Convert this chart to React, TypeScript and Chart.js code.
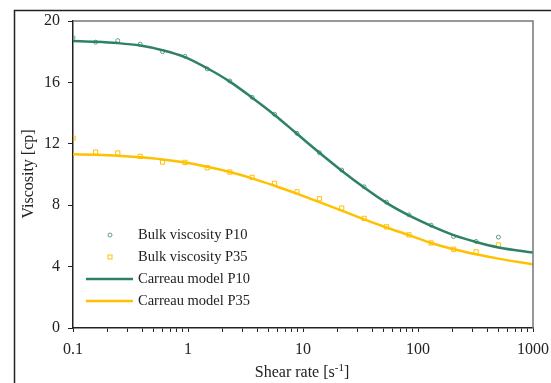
import { useEffect, useRef } from "react";
import { Chart, registerables } from "chart.js";

Chart.register(...registerables);

const shearRate = [0.1, 0.157, 0.245, 0.384, 0.601, 0.941, 1.47, 2.31, 3.61, 5.66, 8.86, 13.9, 21.7, 34.0, 53.2, 83.4, 130, 204, 320, 500];
const bulkP10 = [18.92, 18.62, 18.72, 18.49, 18.0, 17.7, 16.88, 16.09, 15.03, 13.92, 12.68, 11.42, 10.29, 9.2, 8.2, 7.37, 6.7, 5.96, 5.64, 5.92];
const bulkP35 = [12.37, 11.46, 11.4, 11.18, 10.81, 10.79, 10.44, 10.16, 9.81, 9.42, 8.87, 8.42, 7.81, 7.14, 6.59, 6.07, 5.54, 5.13, 4.96, 5.41];

const modelShearRate = [0.1, 0.157, 0.245, 0.384, 0.601, 0.941, 1.47, 2.31, 3.61, 5.66, 8.86, 13.9, 21.7, 34.0, 53.2, 83.4, 130, 204, 320, 500, 1000];
const carreauP10 = [18.7, 18.65, 18.56, 18.4, 18.1, 17.65, 16.92, 16.05, 15.0, 13.88, 12.65, 11.42, 10.25, 9.15, 8.15, 7.33, 6.65, 6.05, 5.6, 5.25, 4.92];
const carreauP35 = [11.32, 11.28, 11.22, 11.12, 10.98, 10.78, 10.5, 10.16, 9.75, 9.27, 8.75, 8.2, 7.65, 7.08, 6.55, 6.05, 5.54, 5.13, 4.8, 4.52, 4.15];

const xMajorTicks = [0.1, 1, 10, 100, 1000];
const xMinorMultipliers = [2, 3, 4, 5, 6, 7, 8, 9];
const yTicks = [0, 4, 8, 12, 16, 20];

const labels = ["Bulk viscosity P10", "Bulk viscosity P35", "Carreau model P10", "Carreau model P35"];
const yTitle = "Viscosity [cp]";
const xTitleMain = "Shear rate [s";
const xTitleSup = "-1";
const xTitleEnd = "]";

const GREEN = "#2E8264";
const GREEN_MARK = "#5A9F85";
const YELLOW = "#FFC000";
const FONT = "'Liberation Serif', 'Times New Roman', serif";

const decorPlugin = {
  id: "decor",
  beforeDraw(chart: any) {
    const ctx = chart.ctx;
    ctx.save();
    ctx.strokeStyle = "#222";
    ctx.lineWidth = 1.5;
    ctx.strokeRect(14.5, 10.5, 700, 500);
    ctx.restore();
  },
  afterDatasetsDraw(chart: any) {
    const ctx = chart.ctx;
    const a = chart.chartArea;
    ctx.save();
    ctx.strokeStyle = "#777";
    ctx.lineWidth = 1.5;
    ctx.beginPath();
    ctx.moveTo(a.left, a.top);
    ctx.lineTo(a.right, a.top);
    ctx.lineTo(a.right, a.bottom);
    ctx.stroke();

    ctx.fillStyle = "#222";
    ctx.font = `16px ${FONT}`;
    ctx.textAlign = "center";
    ctx.textBaseline = "middle";
    ctx.save();
    ctx.translate(29, 174);
    ctx.rotate(-Math.PI / 2);
    ctx.fillText(yTitle, 0, 0);
    ctx.restore();

    ctx.textAlign = "left";
    ctx.textBaseline = "alphabetic";
    ctx.font = `16px ${FONT}`;
    const w1 = ctx.measureText(xTitleMain).width;
    const w3 = ctx.measureText(xTitleEnd).width;
    ctx.font = `11px ${FONT}`;
    const w2 = ctx.measureText(xTitleSup).width;
    const total = w1 + w2 + w3;
    const cx = 302;
    const base = 377;
    let x = cx - total / 2;
    ctx.font = `16px ${FONT}`;
    ctx.fillText(xTitleMain, x, base);
    x += w1;
    ctx.font = `11px ${FONT}`;
    ctx.fillText(xTitleSup, x, base - 6);
    x += w2;
    ctx.font = `16px ${FONT}`;
    ctx.fillText(xTitleEnd, x, base);

    const rows = [235, 257, 279, 301];
    const ds = chart.data.datasets;
    ctx.font = `14.5px ${FONT}`;
    ctx.textBaseline = "middle";
    for (let i = 0; i < 4; i++) {
      const d = ds[i];
      const y = rows[i];
      if (i === 0) {
        ctx.beginPath();
        ctx.arc(110, y, 2, 0, Math.PI * 2);
        ctx.strokeStyle = d.borderColor;
        ctx.lineWidth = 1;
        ctx.stroke();
      } else if (i === 1) {
        ctx.strokeStyle = d.borderColor;
        ctx.lineWidth = 1;
        ctx.strokeRect(108, y - 2, 4, 4);
      } else {
        ctx.beginPath();
        ctx.moveTo(86, y);
        ctx.lineTo(133, y);
        ctx.strokeStyle = d.borderColor;
        ctx.lineWidth = 2.5;
        ctx.stroke();
      }
      ctx.fillStyle = "#222";
      ctx.fillText(d.label, 138, y);
    }
    ctx.restore();
  },
};

export default function App() {
  const ref = useRef<HTMLCanvasElement>(null);
  useEffect(() => {
    document.body.style.margin = "0";
    const canvas = ref.current!;
    const chart = new Chart(canvas, {
      type: "scatter",
      data: {
        datasets: [
          {
            label: labels[0],
            data: shearRate.map((x, i) => ({ x, y: bulkP10[i] })),
            showLine: false,
            pointStyle: "circle",
            pointRadius: 2,
            borderColor: GREEN_MARK,
            backgroundColor: "rgba(255,255,255,0)",
            borderWidth: 1,
            order: 2,
          },
          {
            label: labels[1],
            data: shearRate.map((x, i) => ({ x, y: bulkP35[i] })),
            showLine: false,
            pointStyle: "rect",
            pointRadius: 3,
            borderColor: YELLOW,
            backgroundColor: "rgba(255,255,255,0)",
            borderWidth: 1,
            order: 2,
          },
          {
            label: labels[2],
            data: modelShearRate.map((x, i) => ({ x, y: carreauP10[i] })),
            showLine: true,
            pointRadius: 0,
            borderColor: GREEN,
            backgroundColor: GREEN,
            borderWidth: 2.5,
            cubicInterpolationMode: "monotone",
            order: 1,
          },
          {
            label: labels[3],
            data: modelShearRate.map((x, i) => ({ x, y: carreauP35[i] })),
            showLine: true,
            pointRadius: 0,
            borderColor: YELLOW,
            backgroundColor: YELLOW,
            borderWidth: 2.5,
            cubicInterpolationMode: "monotone",
            order: 1,
          },
        ],
      },
      options: {
        animation: false,
        responsive: false,
        devicePixelRatio: 1,
        layout: { padding: { left: 0, right: 18, top: 21, bottom: 0 } },
        plugins: { legend: { display: false }, tooltip: { enabled: false } },
        scales: {
          x: {
            type: "logarithmic",
            min: 0.1,
            max: 1000,
            afterBuildTicks(scale: any) {
              const t: any[] = [];
              xMajorTicks.forEach((m, k) => {
                t.push({ value: m, major: true });
                if (k < xMajorTicks.length - 1) {
                  xMinorMultipliers.forEach((f) => t.push({ value: +(m * f).toPrecision(3) }));
                }
              });
              scale.ticks = t;
            },
            afterFit(scale: any) {
              scale.height = 55;
              scale.paddingLeft = 0;
              scale.paddingRight = 0;
            },
            grid: { drawOnChartArea: false, drawTicks: true, tickLength: 4, color: "#222", tickWidth: 1 },
            border: { color: "#222", width: 1.5 },
            ticks: {
              autoSkip: false,
              maxRotation: 0,
              padding: 8,
              color: "#222",
              font: { family: FONT, size: 16 },
              callback: (v: any) => (xMajorTicks.includes(Number(v)) ? String(v) : ""),
            },
          },
          y: {
            min: 0,
            max: 20,
            afterBuildTicks(scale: any) {
              scale.ticks = yTicks.map((v) => ({ value: v }));
            },
            afterFit(scale: any) {
              scale.width = 73;
              scale.paddingTop = 0;
              scale.paddingBottom = 0;
            },
            grid: { drawOnChartArea: false, drawTicks: true, tickLength: 5, color: "#222", tickWidth: 1 },
            border: { color: "#222", width: 1.5 },
            ticks: {
              padding: 8,
              color: "#222",
              font: { family: FONT, size: 16 },
            },
          },
        },
      },
      plugins: [decorPlugin],
    } as any);
    return () => chart.destroy();
  }, []);
  return <canvas ref={ref} width={551} height={383} style={{ display: "block" }} />;
}
